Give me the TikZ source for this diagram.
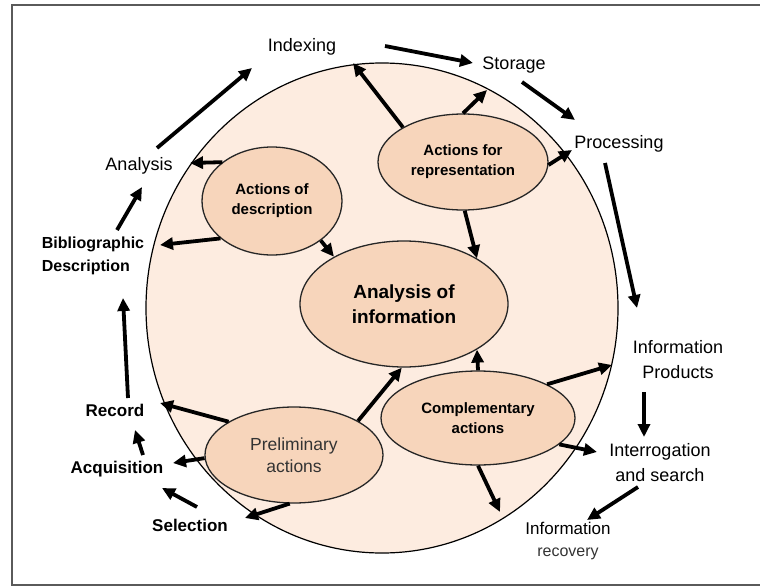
\documentclass[tikz,border=0pt]{standalone}
\usepackage{fontspec}
\setmainfont{Liberation Sans}
\usetikzlibrary{shapes.geometric,arrows.meta}
\definecolor{discfill}{RGB}{253,236,224}
\definecolor{actfill}{RGB}{247,213,187}
\definecolor{framegray}{RGB}{90,90,90}
\definecolor{softtext}{RGB}{51,51,51}

\begin{document}
\begin{tikzpicture}[x=1pt,y=-1pt,
  act/.style={ellipse,draw=black!85,line width=1.3pt,fill=actfill,inner sep=0pt,
    align=center,font=\bfseries\fontsize{15}{20}\selectfont},
  lbl/.style={inner sep=2pt,align=center,font=\fontsize{18}{25}\selectfont},
  blbl/.style={inner sep=2pt,align=center,font=\bfseries\fontsize{17}{23}\selectfont},
  arr/.style={line width=3.8pt,-{Triangle[length=13pt,width=12pt]}}]
\useasboundingbox (0,0) rectangle (760,586);
\draw[framegray,line width=2pt] (12,5) rectangle (770,585);
%\draw (0,0) grid[step=50] (760,586);
\fill[discfill] (382,308) ellipse [x radius=236,y radius=245];

% the five groups of actions
\node[act,minimum width=140,minimum height=108] (desc) at (272,201) {Actions of\\description};
\node[act,minimum width=170,minimum height=96] (repr) at (463,162) {Actions for\\representation};
\node[act,minimum width=208,minimum height=126,font=\bfseries\fontsize{19}{25}\selectfont] (info) at (404,304) {Analysis of\\information};
\node[act,minimum width=178,minimum height=96,font=\fontsize{17.5}{22}\selectfont,text=softtext] (prelim) at (294,455) {Preliminary\\actions};
\node[act,minimum width=194,minimum height=94] (compl) at (478,418) {Complementary\\actions};
\draw[line width=1.2pt] (382,308) ellipse [x radius=236,y radius=245];

% steps round the circle
\node[lbl] (indexing) at (302,47) {Indexing};
\node[lbl] (storage) at (514,65) {Storage};
\node[lbl] (processing) at (619,144) {Processing};
\node[lbl] (analysis) at (139,166) {Analysis};
\node[blbl,align=left,font=\bfseries\fontsize{16}{23}\selectfont] (biblio) at (93,256) {Bibliographic\\Description};
\node[blbl] (record) at (115,410) {Record};
\node[blbl] (acquisition) at (117,469) {Acquisition};
\node[blbl] (selection) at (190,525) {Selection};
\node[lbl] (products) at (678,360) {Information\\Products};
\node[lbl] (interrog) at (660,463) {Interrogation\\and search};
\node[lbl,font=\fontsize{17}{22}\selectfont] (recovery) at (568,541) {Information\\{\color{softtext}\fontsize{16}{22}\selectfont recovery}};

% outer cycle
\draw[arr] ([shift={(18,-18)}]analysis.center) -- ([shift={(-50,21)}]indexing.center);
\draw[arr] ([shift={(83,-1)}]indexing.center) -- ([shift={(-41,-2)}]storage.center);
\draw[arr] ([shift={(8,17)}]storage.center) -- ([shift={(-44,-24)}]processing.center);
\draw[arr] ([shift={(-14,19)}]processing.center) -- ([shift={(-41,-52)}]products.center);
\draw[arr] ([shift={(-34,32)}]products.center) -- ([shift={(-16,-26)}]interrog.center);
\draw[arr] ([shift={(-22,24)}]interrog.center) -- ([shift={(19,-21)}]recovery.center);
\draw[arr] ([shift={(7,-18)}]selection.center) -- ([shift={(45,19)}]acquisition.center);
\draw[arr] ([shift={(26,-14)}]acquisition.center) -- ([shift={(20,20)}]record.center);
\draw[arr] ([shift={(13,-12)}]record.center) -- ([shift={(30,42)}]biblio.center);
\draw[arr] ([shift={(24,-26)}]biblio.center) -- ([shift={(3,21)}]analysis.center);

% from the groups
\draw[arr] (desc.142) -- ([shift={(51,-3)}]analysis.center);
\draw[arr] (desc.216) -- ([shift={(67,-11)}]biblio.center);
\draw[arr] (desc.-39) -- (info.146);
\draw[arr] (repr.150) -- ([shift={(51,16)}]indexing.center);
\draw[arr] (repr.90) -- ([shift={(-27,25)}]storage.center);
\draw[arr] (repr.-2) -- ([shift={(-47,6)}]processing.center);
\draw[arr] (repr.-88) -- (info.32);
\draw[arr] (prelim.153) -- ([shift={(45,-7)}]record.center);
\draw[arr] (prelim.182) -- ([shift={(56,-6)}]acquisition.center);
\draw[arr] (prelim.-95) -- ([shift={(55,-7)}]selection.center);
\draw[arr] (prelim.28) -- (info.-92);
\draw[arr] (compl.90) -- (info.-32);
\draw[arr] (compl.26) -- ([shift={(-66,5)}]products.center);
\draw[arr] (compl.-18) -- ([shift={(-63,-11)}]interrog.center);
\draw[arr] (compl.-90) -- ([shift={(-68,-29)}]recovery.center);
\end{tikzpicture}
\end{document}
